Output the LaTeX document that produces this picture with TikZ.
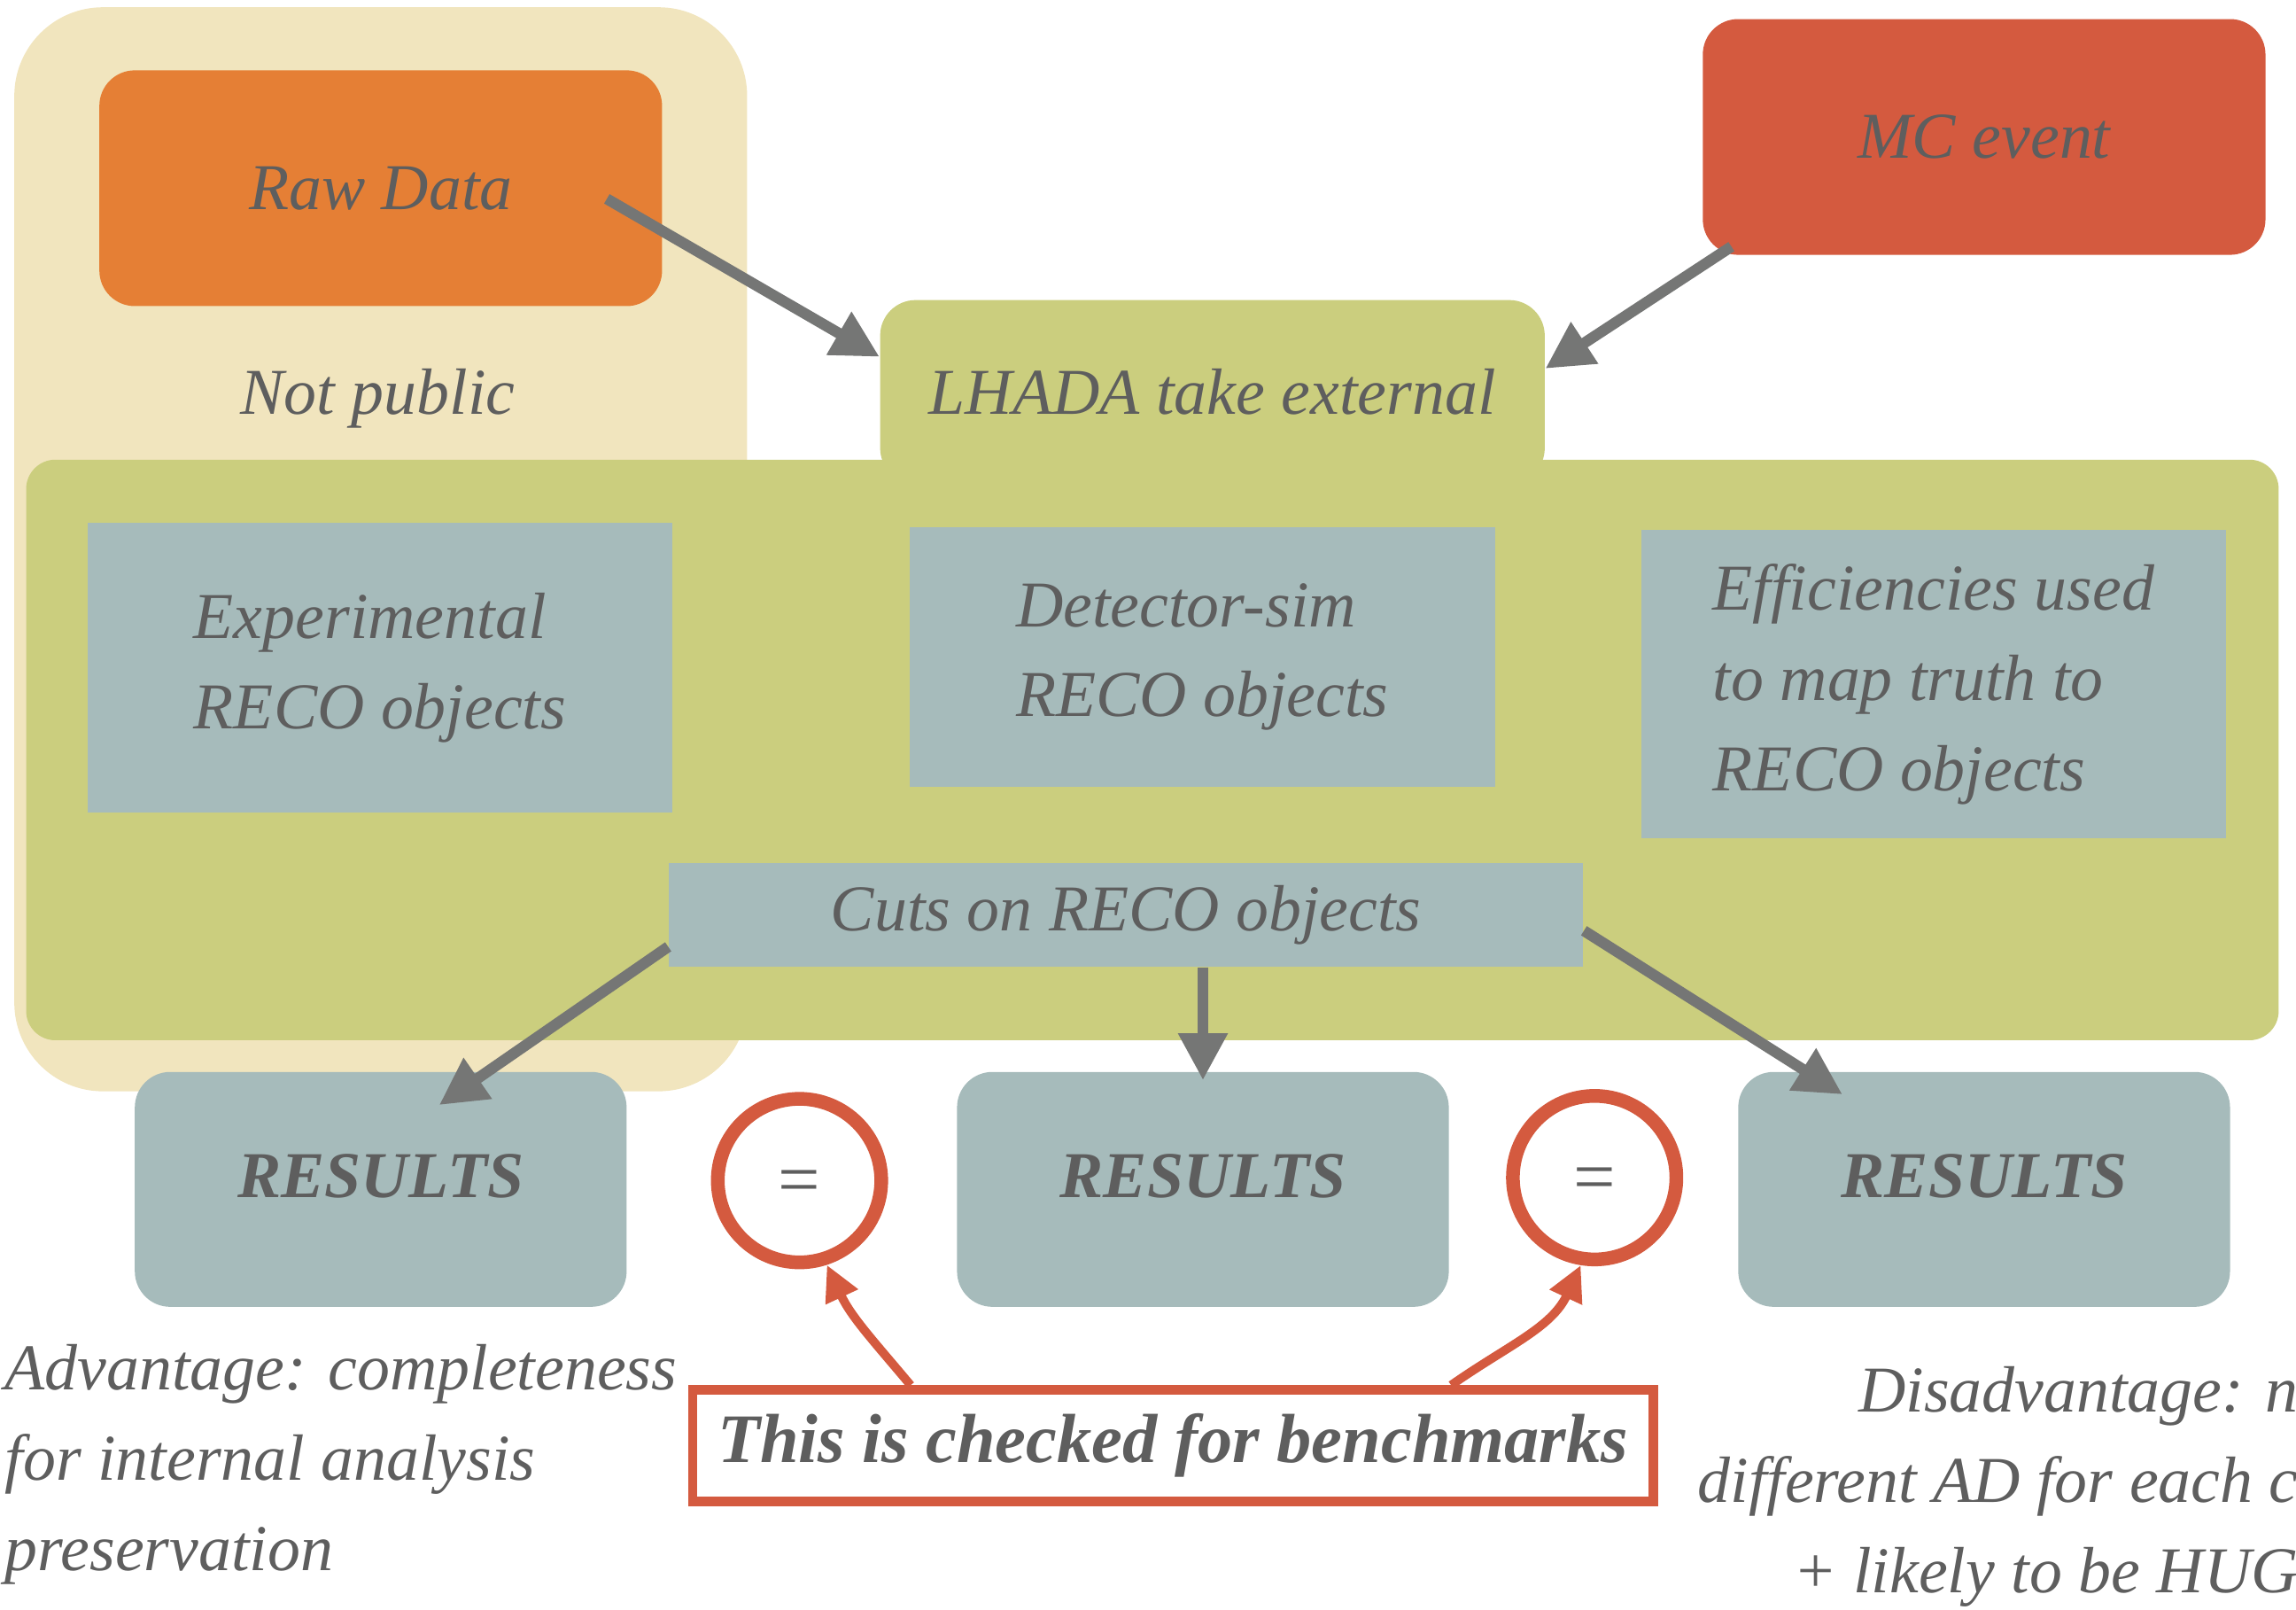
\documentclass[tikz,border=0pt]{standalone}
\usepackage{fontspec}
\setmainfont{Liberation Serif}
\usepackage{xcolor}
\usepackage{tikz}
\usetikzlibrary{shapes,arrows.meta,positioning}

\definecolor{cPrivate}{HTML}{F1E5BE}
\definecolor{cRaw}{HTML}{E57F35}
\definecolor{cMC}{HTML}{D45A3F}
\definecolor{cLhada}{HTML}{CBCE7E}
\definecolor{cReco}{HTML}{A6BBBB}
\definecolor{ink}{HTML}{5E5E5E}
\definecolor{pointer}{HTML}{757675}

\tikzstyle{arrow} = [line width=3.5pt, draw=pointer, -{Triangle[length=0.53cm, width=0.53cm]}]
\tikzstyle{checkarrow} = [line width=2.8pt, draw=cMC, -{Triangle[length=0.4cm, width=0.38cm]}]

\begin{document}
\begin{tikzpicture}[x=0.016531cm, y=-0.016531cm, font=\fontsize{21}{29}\selectfont\itshape, text=ink]
    \tikzstyle{area} = [rectangle, inner sep=0pt]
    \tikzstyle{block} = [rectangle, inner sep=0pt, rounded corners=0.4cm]
    \tikzstyle{recobox} = [rectangle, fill=cReco, inner sep=0pt, align=left]
    \tikzstyle{result} = [block, fill=cReco, minimum width=5.55cm, minimum height=2.65cm, text depth=0.3cm,
        font=\fontsize{21}{29}\selectfont\bfseries\itshape]
    \tikzstyle{equal} = [circle, draw=cMC, line width=4.4pt, minimum size=1.845cm, inner sep=0pt,
        text height=0.55cm, text depth=0pt, font=\fontsize{24}{26}\selectfont\upshape]

    \clip (0,0) rectangle (1568,1099);

    % Background areas
    \node[area, fill=cPrivate, rounded corners=1cm, minimum width=8.27cm, minimum height=12.23cm] (private) at (260,375) {};
    \node[block, fill=cLhada, minimum width=7.5cm, minimum height=2.07cm] (lhada) at (828,267.5) {LHADA take external};
    \node[area, fill=cLhada, rounded corners=0.33cm, minimum width=25.42cm, minimum height=6.55cm] (ad) at (787,512) {};

    % Inputs
    \node[block, fill=cRaw, minimum width=6.35cm, minimum height=2.66cm] (raw) at (260,128.5) {Raw Data};
    \node[block, fill=cMC, minimum width=6.35cm, minimum height=2.66cm] (mc) at (1355,93.5) {MC event};
    \node (notpublic) at (258,272) {Not public};

    % Objects
    \node[recobox, minimum width=6.6cm, minimum height=3.27cm] (exp) at (259.5,456) {Experimental\\RECO objects};
    \node[recobox, minimum width=6.61cm, minimum height=2.93cm] (det) at (821,448.5) {Detector-sim\\RECO objects};
    \node[recobox, minimum width=6.6cm, minimum height=3.47cm] (eff) at (1320.5,467) {Efficiencies used\\to map truth to\\RECO objects};
    \node[recobox, minimum width=10.32cm, minimum height=1.17cm] (cuts) at (769,624.5) {Cuts on RECO objects};

    % Results
    \node[result] (resL) at (260,812) {RESULTS};
    \node[result] (resM) at (821.5,812) {RESULTS};
    \node[result] (resR) at (1355,812) {RESULTS};
    \node[equal] (eqL) at (546,806) {=};
    \node[equal] (eqR) at (1089,804) {=};
    \node[rectangle, draw=cMC, line width=3pt, fill=white, minimum width=10.84cm, minimum height=1.26cm,
        font=\fontsize{22.3}{29}\selectfont\bfseries\itshape] (bench) at (801,987) {This is checked for benchmarks};

    \node[anchor=west, align=left, inner sep=0pt] (adv) at (3,1000) {Advantage: completeness\\for internal analysis\\preservation};
    \node[anchor=east, align=right, inner sep=0pt] (disadv) at (1570,1015) {Disadvantage: n\\different AD for each c\\+ likely to be HUG};

    % Arrows
    \draw[arrow] ([xshift=-0.63cm, yshift=-0.12cm]raw.east) -- (lhada.174);
    \draw[arrow] ([xshift=0.33cm, yshift=0.1cm]mc.south west) -- (lhada.4);
    \draw[arrow] (cuts.184) -- ([xshift=0.66cm, yshift=-0.38cm]resL.north);
    \draw[arrow] (cuts.south -| resM.north) -- ([yshift=-0.1cm]resM.north);
    \draw[arrow] (cuts.-2) -- ([xshift=-1.6cm, yshift=-0.26cm]resR.north);
    \draw[checkarrow] ([xshift=-2.96cm]bench.north) to[out=130, in=-65] (eqL.-72);
    \draw[checkarrow] ([xshift=3.14cm]bench.north) to[out=35, in=-115] (eqR.-99);

\end{tikzpicture}
\end{document}
